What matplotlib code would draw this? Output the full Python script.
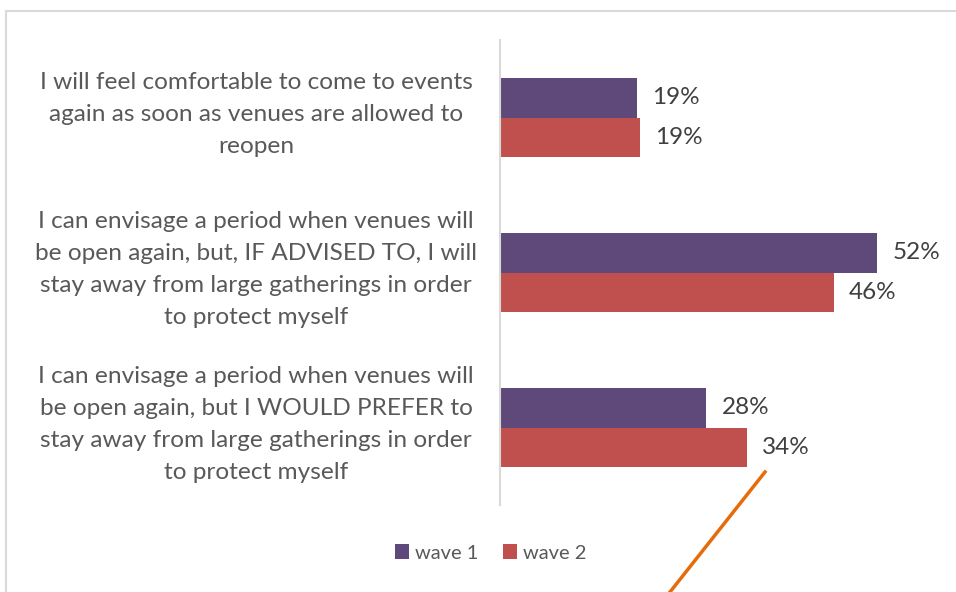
import matplotlib
matplotlib.use("Agg")
import matplotlib.pyplot as plt
from matplotlib.patches import Rectangle
from matplotlib.lines import Line2D
import matplotlib.transforms as mtransforms

categories = [
    "I will feel comfortable to come to events\nagain as soon as venues are allowed to\nreopen",
    "I can envisage a period when venues will\nbe open again, but, IF ADVISED TO, I will\nstay away from large gatherings in order\nto protect myself",
    "I can envisage a period when venues will\nbe open again, but I WOULD PREFER to\nstay away from large gatherings in order\nto protect myself",
]
wave1 = [18.9, 52.0, 28.4]
wave2 = [19.3, 46.0, 34.0]
series_names = ["wave 1", "wave 2"]
colors = ["#5F497A", "#C0504D"]

plt.rcParams['font.family'] = ['Lato', 'DejaVu Sans']

W, H = 956, 592
fig = plt.figure(figsize=(W / 100, H / 100), dpi=100)
ax = fig.add_axes([500 / W, 1 - 505 / H, 450 / W, 465 / H])

bh = 0.255
ypos = list(range(len(categories)))
for vals, off, col, name in [(wave1, -bh / 2, colors[0], series_names[0]),
                             (wave2, bh / 2, colors[1], series_names[1])]:
    ys = [y + off for y in ypos]
    bars = ax.barh(ys, vals, height=bh, color=col, label=name)
    for b, v in zip(bars, vals):
        ax.annotate(f"{v:.0f}%", (b.get_width(), b.get_y() + b.get_height() / 2),
                    xytext=(11, 0), textcoords="offset points",
                    va="center", ha="left", fontsize=17.5,
                    color="#404040")

ax.set_xlim(0, 62)
ax.set_ylim(len(categories) - 0.5, -0.5)
ax.set_xticks([])
ax.set_yticks([])
for s in ["top", "right", "bottom"]:
    ax.spines[s].set_visible(False)
ax.spines["left"].set_color("#d9d9d9")
ax.spines["left"].set_linewidth(1.5)

trans = mtransforms.blended_transform_factory(fig.transFigure, ax.transData)
for y, lab in zip(ypos, categories):
    fig.text(256 / W, y - 0.02, lab, transform=trans, ha="center", va="center",
             multialignment="center", fontsize=17.6,
             color="#595959", linespacing=1.64)

handles, labels = ax.get_legend_handles_labels()
fig.legend(handles, labels, loc="center", bbox_to_anchor=(491 / W, 1 - 553 / H),
           ncol=2, frameon=False, prop={"size": 14.5},
           labelcolor="#595959",
           handlelength=0.7, handleheight=0.7, handletextpad=0.3, columnspacing=1.2)

# chart frame
fig.add_artist(Rectangle((6 / W, -0.1), 1.2, 1 - 11 / H + 0.1, transform=fig.transFigure,
                         fill=False, edgecolor="#d9d9d9", linewidth=1.5))
# orange annotation line
fig.add_artist(Line2D([765 / W, 670 / W], [1 - 472 / H, 1 - 592 / H], transform=fig.transFigure,
                      color="#E46C0A", linewidth=2.5))

fig.savefig("out.png", dpi=100, facecolor="white")
